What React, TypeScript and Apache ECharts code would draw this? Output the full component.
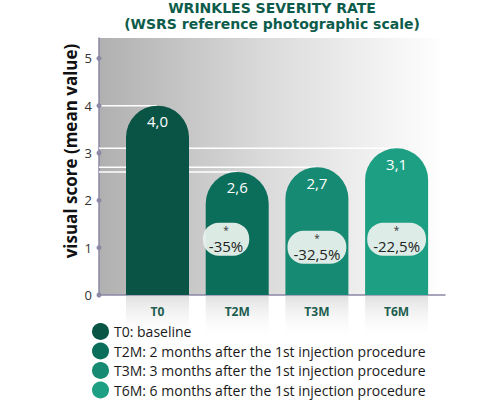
import React, { useEffect, useRef } from "react";
import * as echarts from "echarts";

const categories = ["T0", "T2M", "T3M", "T6M"];
const legendNames = [
  "T0: baseline",
  "T2M: 2 months after the 1st injection procedure",
  "T3M: 3 months after the 1st injection procedure",
  "T6M: 6 months after the 1st injection procedure",
];
const values = [4.0, 2.6, 2.7, 3.1];
const changeLabels = ["", "-35%", "-32,5%", "-22,5%"];
const badgeX = [0, 0.86, 2, 3];
const badgeY = [0, 1.18, 1.01, 1.18];
const yTicks = [0, 1, 2, 3, 4, 5];
const colors = ["#0a5446", "#0b6e5b", "#168a72", "#1c9f82"];

const X_MIN = -0.734;
const X_MAX = 3.607;
const Y_MAX = 5.43;
const FONT = "Open Sans";
const TITLE_FONT = "DejaVu Sans";
const AXIS_COLOR = "#8b88a6";

export default function App() {
  const ref = useRef<HTMLDivElement>(null);
  useEffect(() => {
    if (!ref.current) return;
    const chart = echarts.init(ref.current, undefined, { renderer: "svg" });

    const barSeries = values.map((v, i) => ({
      type: "bar",
      name: legendNames[i],
      data: [[i, v]],
      barWidth: 63,
      barGap: "-100%",
      z: 3,
      itemStyle: { color: colors[i], borderRadius: [31.5, 31.5, 0, 0] },
      label: {
        show: true,
        position: "insideTop",
        distance: 8,
        color: "#ffffff",
        fontSize: 15,
        fontFamily: FONT,
        formatter: () => v.toFixed(1).replace(".", ","),
      },
    }));

    const lineSeries = values.map((v, i) => ({
      type: "line",
      data: [
        [X_MIN, v],
        [i, v],
      ],
      symbol: "none",
      silent: true,
      z: 1,
      lineStyle: { color: "#ffffff", width: 1.5 },
    }));

    const badgeData = values
      .map((_, i) => ({ value: [badgeX[i], badgeY[i]], name: changeLabels[i] }))
      .filter((d) => d.name !== "");

    const option: any = {
      animation: false,
      textStyle: { fontFamily: FONT },
      title: {
        text: "WRINKLES SEVERITY RATE\n(WSRS reference photographic scale)",
        left: 272,
        top: 0,
        padding: 0,
        textAlign: "center",
        textStyle: {
          fontFamily: TITLE_FONT,
          fontSize: 14,
          fontWeight: "bold",
          color: "#0d5c4b",
          lineHeight: 16,
        },
      },
      legend: {
        data: legendNames,
        orient: "vertical",
        left: 92,
        top: 323,
        padding: 0,
        itemWidth: 17,
        itemHeight: 17,
        itemGap: 2.5,
        icon: "circle",
        textStyle: { fontFamily: FONT, fontSize: 14, color: "#1a1a1a" },
      },
      grid: {
        left: 99,
        right: 55,
        top: 38,
        bottom: 105,
        show: true,
        borderWidth: 0,
        backgroundColor: new echarts.graphic.LinearGradient(0, 0, 1, 0, [
          { offset: 0, color: "#b0b0b0" },
          { offset: 0.5, color: "#dcdcdc" },
          { offset: 1, color: "#ffffff" },
        ]),
      },
      xAxis: {
        type: "value",
        min: X_MIN,
        max: X_MAX,
        axisLine: { show: true, onZero: false, lineStyle: { color: AXIS_COLOR, width: 1.5 } },
        axisTick: { show: false },
        splitLine: { show: false },
        axisLabel: {
          customValues: [0, 1, 2, 3],
          formatter: (v: number) => categories[Math.round(v)],
          color: "#1d5e50",
          fontWeight: "bold",
          fontSize: 12,
          fontFamily: FONT,
          margin: 1,
          width: 63,
          height: 36,
          lineHeight: 14,
          align: "center",
          verticalAlign: "top",
          padding: [8, 0, 0, 0],
          backgroundColor: new echarts.graphic.LinearGradient(0, 0, 0, 1, [
            { offset: 0, color: "#e0e0e0" },
            { offset: 1, color: "rgba(255,255,255,0)" },
          ]),
        },
      },
      yAxis: {
        type: "value",
        min: 0,
        max: Y_MAX,
        axisLine: { show: true, onZero: false, lineStyle: { color: AXIS_COLOR, width: 1.5 } },
        axisTick: { show: false },
        splitLine: { show: false },
        axisLabel: {
          customValues: yTicks,
          color: "#333333",
          fontSize: 13,
          fontFamily: FONT,
          margin: 7,
        },
      },
      graphic: [
        {
          type: "text",
          x: 70,
          y: 151,
          rotation: Math.PI / 2,
          style: {
            text: "visual score (mean value)",
            font: `bold 17px "${FONT}"`,
            fill: "#111111",
            align: "center",
            verticalAlign: "middle",
          },
        },
      ],
      series: [
        ...lineSeries,
        ...barSeries,
        {
          type: "scatter",
          data: yTicks.map((v) => [X_MIN, v]),
          symbolSize: 5,
          clip: false,
          silent: true,
          z: 6,
          itemStyle: { color: AXIS_COLOR, opacity: 1 },
        },
        {
          type: "scatter",
          data: badgeData,
          symbolSize: 1,
          z: 8,
          silent: true,
          itemStyle: { color: "rgba(0,0,0,0)", opacity: 1 },
          label: {
            show: true,
            position: "inside",
            backgroundColor: "rgba(232,240,236,0.95)",
            borderRadius: 16,
            padding: [1, 6, 0, 6],
            align: "center",
            formatter: (p: any) => `{s|*}\n{p|${p.name}}`,
            rich: {
              s: { fontSize: 10, lineHeight: 13, color: "#333333", align: "center", fontFamily: FONT },
              p: { fontSize: 15, lineHeight: 19, color: "#222222", align: "center", fontFamily: FONT },
            },
          },
        },
      ],
    };

    chart.setOption(option);
    return () => chart.dispose();
  }, []);

  return (
    <div
      ref={ref}
      style={{ position: "absolute", left: 0, top: 0, width: 500, height: 400 }}
    />
  );
}
